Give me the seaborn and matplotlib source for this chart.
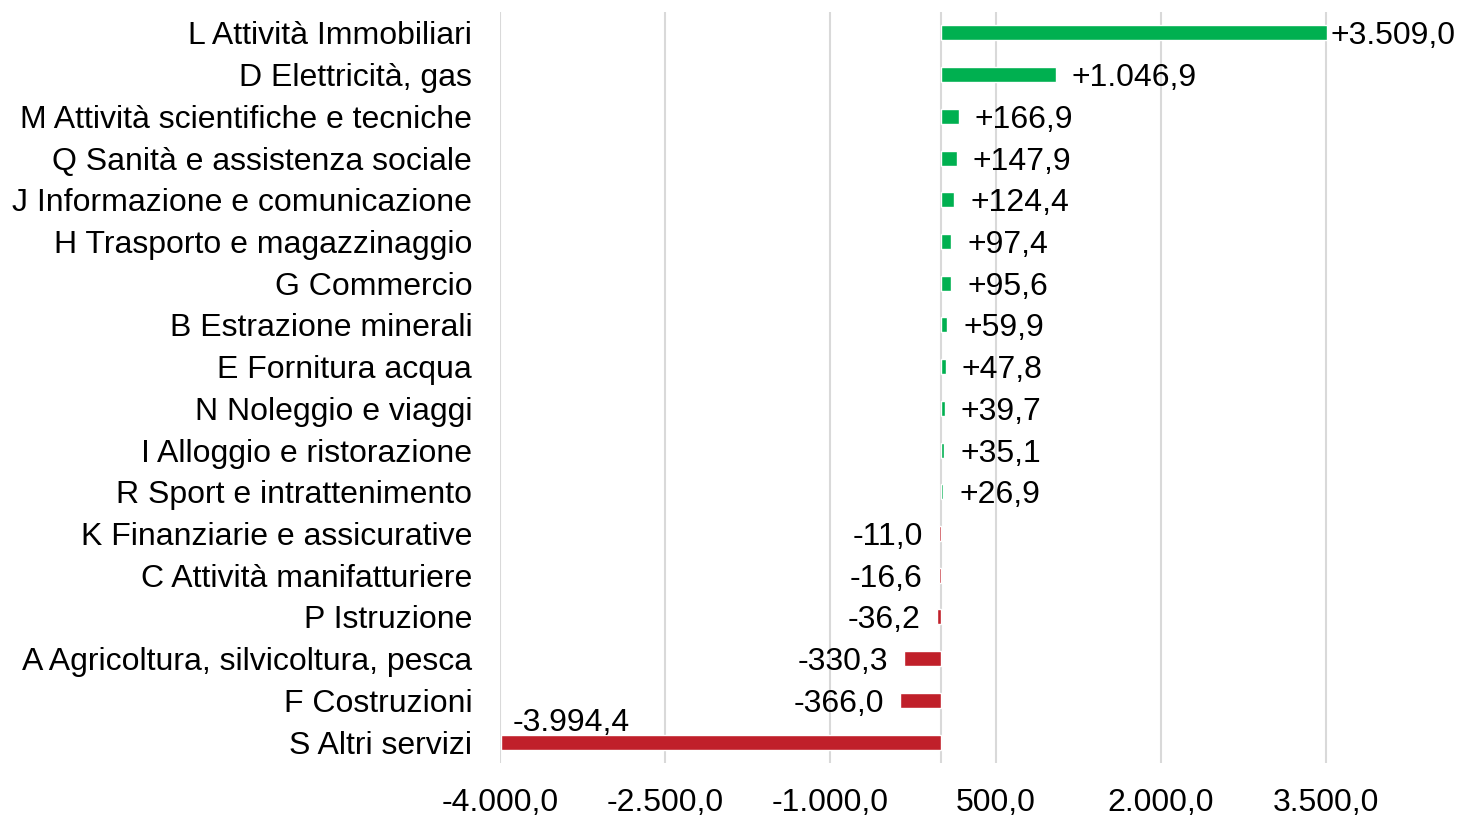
import numpy as np
import pandas as pd
import seaborn as sns
import matplotlib.pyplot as plt

# ---------- data ----------
settori = [
    "L Attività Immobiliari",
    "D Elettricità, gas",
    "M Attività scientifiche e tecniche",
    "Q Sanità e assistenza sociale",
    "J Informazione e comunicazione",
    "H Trasporto e magazzinaggio",
    "G Commercio",
    "B Estrazione minerali",
    "E Fornitura acqua",
    "N Noleggio e viaggi",
    "I Alloggio e ristorazione",
    "R Sport e intrattenimento",
    "K Finanziarie e assicurative",
    "C Attività manifatturiere",
    "P Istruzione",
    "A Agricoltura, silvicoltura, pesca",
    "F Costruzioni",
    "S Altri servizi",
]
variazione = [3509.0, 1046.9, 166.9, 147.9, 124.4, 97.4, 95.6, 59.9, 47.8,
              39.7, 35.1, 26.9, -11.0, -16.6, -36.2, -330.3, -366.0, -3994.4]
x_ticks = [-4000, -2500, -1000, 500, 2000, 3500]

VERDE = "#00B050"
ROSSO = "#C0202A"
GRIGIO = "#D9D9D9"


def fmt_it(v, segno=False):
    s = f"{v:+,.1f}" if segno else f"{v:,.1f}"
    return s.replace(",", "X").replace(".", ",").replace("X", ".")


df = pd.DataFrame({"settore": settori, "valore": variazione})
colori = [VERDE if v > 0 else ROSSO for v in variazione]

sns.set_style("white", rc={"text.color": "black", "xtick.color": "black",
                           "ytick.color": "black"})
plt.rcParams["font.family"] = ["Liberation Sans", "DejaVu Sans"]
FS = 23

fig = plt.figure(figsize=(14.58, 8.16), dpi=100)
ax = fig.add_axes([500 / 1458, 1 - 763 / 816, 881 / 1458, 751 / 816])

sns.barplot(data=df, x="valore", y="settore", hue="settore", palette=colori,
            orient="h", width=0.36, legend=False, ax=ax, saturation=1)

ax.set_xlim(-4000, 4000)
ax.set_ylim(17.5, -0.5)
ax.set_xticks(x_ticks)
ax.set_xticklabels([fmt_it(t) for t in x_ticks], fontsize=FS)
ax.tick_params(axis="x", length=0, pad=18)
ax.tick_params(axis="y", length=0, pad=20, labelsize=FS)
ax.set_xlabel("")
ax.set_ylabel("")
for s in ax.spines.values():
    s.set_visible(False)
ax.grid(axis="x", color=GRIGIO, linewidth=1.5)
ax.set_axisbelow(True)
ax.axvline(0, color=GRIGIO, linewidth=1.5, zorder=0.5)

# ---------- etichette dati ----------
testi = []
for i, v in enumerate(variazione):
    lab = fmt_it(v, segno=True) if v > 0 else fmt_it(v)
    if v > 0:
        t = ax.annotate(lab, (v, i), xytext=(11.5, 0), textcoords="offset points",
                        ha="left", va="center_baseline", fontsize=FS)
        testi.append(t)
    elif v - 600 < ax.get_xlim()[0]:
        # nessuno spazio a sinistra: etichetta sopra la barra
        ax.annotate(lab, (v, i), xytext=(9, 16), textcoords="offset points",
                    ha="left", va="center_baseline", fontsize=FS)
    else:
        ax.annotate(lab, (v, i), xytext=(-11.5, 0), textcoords="offset points",
                    ha="right", va="center_baseline", fontsize=FS)

fig.canvas.draw()
r = fig.canvas.get_renderer()
W = fig.bbox.width
for t in testi:
    bb = t.get_window_extent(r)
    if bb.x1 > W - 2:
        dx = (bb.x1 - (W - 2)) * 72 / fig.dpi
        x0, y0 = t.xyann
        t.xyann = (x0 - dx, y0)

fig.savefig("out.png", dpi=100)
